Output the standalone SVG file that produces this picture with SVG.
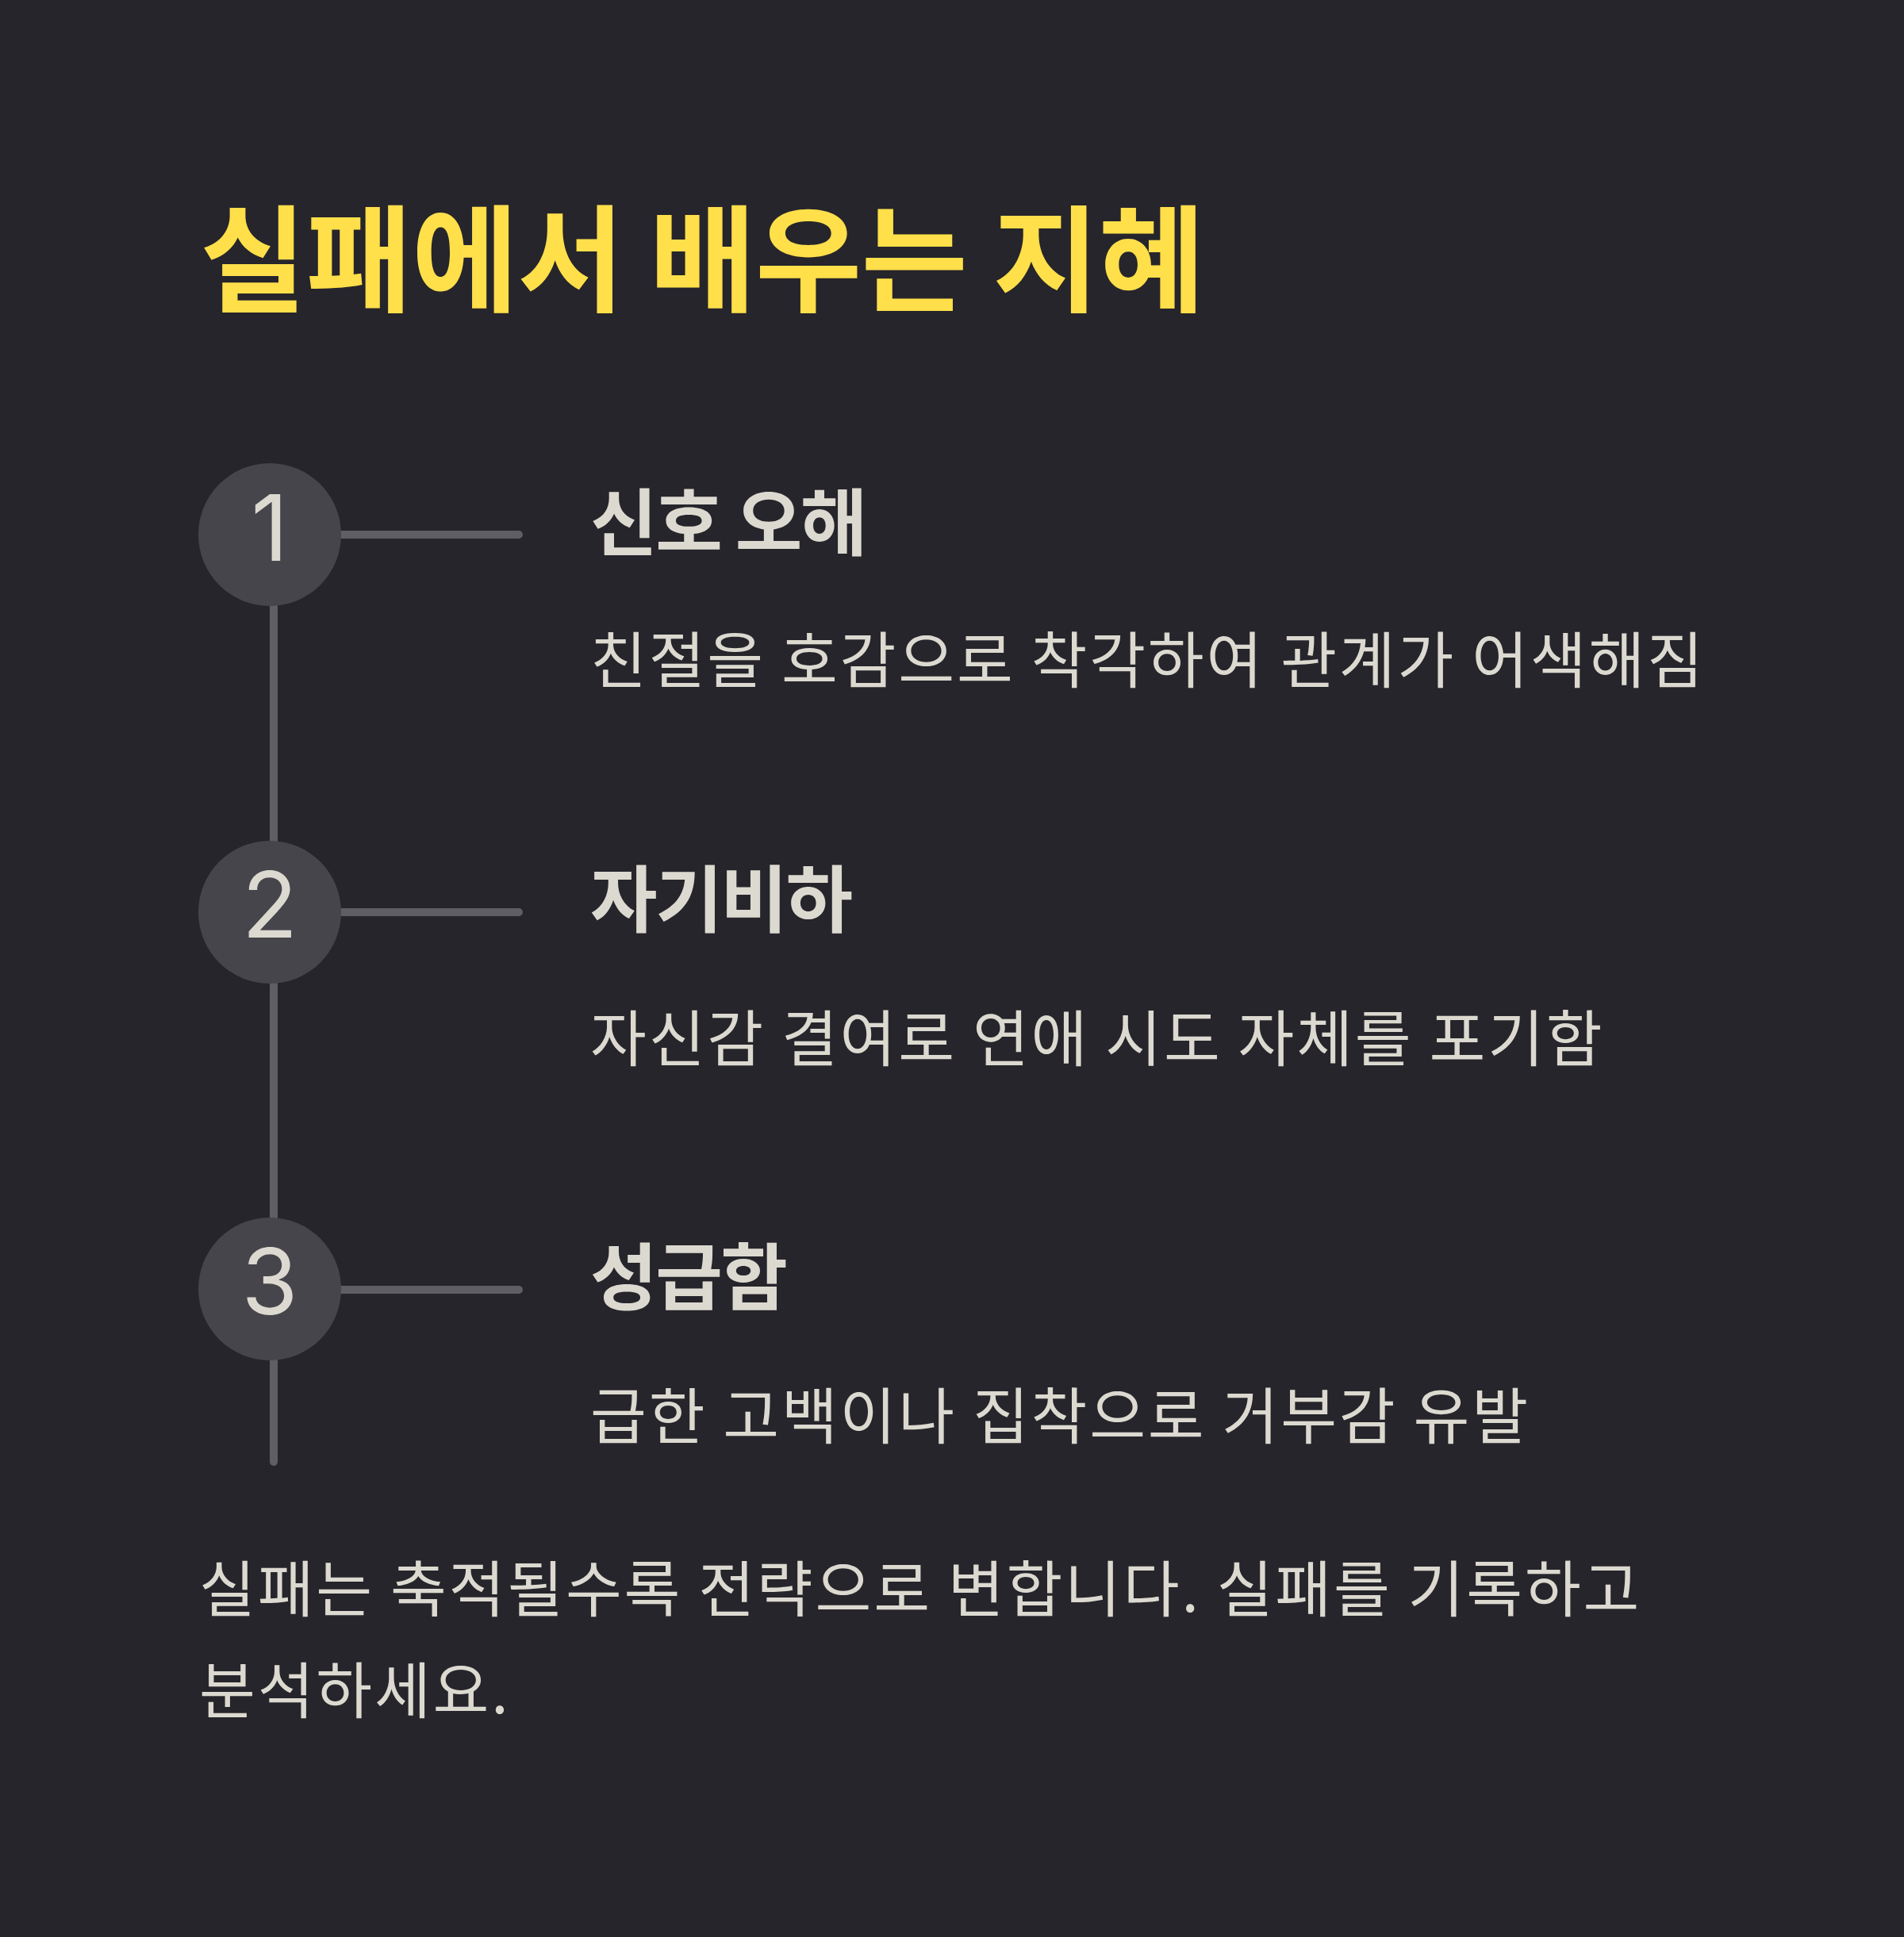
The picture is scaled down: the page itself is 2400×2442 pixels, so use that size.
<svg xmlns="http://www.w3.org/2000/svg" width="2400" height="2442" viewBox="0 0 2400 2442">
<style>
.bg{fill:#26252b}
.title{font-family:"Noto Sans CJK KR","Noto Sans",sans-serif;font-weight:700;font-size:146px;letter-spacing:-0.8px;fill:#ffdf4a}
.head{font-family:"Noto Sans CJK KR","Noto Sans",sans-serif;font-weight:700;font-size:92px;letter-spacing:-2.5px;fill:#dcd9d0}
.desc{font-family:"Noto Sans CJK KR","Noto Sans",sans-serif;font-weight:400;font-size:77px;letter-spacing:2.8px;fill:#dcd9d0}
.num{font-family:Inter,"Noto Sans",sans-serif;font-weight:400;font-size:115px;fill:#dcd9d0;text-anchor:middle}
.circ{fill:#46454b}
.ln{stroke:#5f5e65;stroke-width:10;stroke-linecap:round;fill:none}
</style>
<rect class="bg" x="0" y="0" width="2400" height="2442"/>
<text id="title" class="title" x="252" y="381">실패에서 배우는 지혜</text>
<g id="connectors">
<line class="ln" x1="345" y1="674" x2="345" y2="1843"/>
<line class="ln" x1="340" y1="674" x2="654" y2="674"/>
<line class="ln" x1="340" y1="1150" x2="654" y2="1150"/>
<line class="ln" x1="340" y1="1626" x2="654" y2="1626"/>
</g>
<g id="node1">
<circle class="circ" cx="340" cy="674" r="90"/>
<text class="num" x="340" y="707">1</text>
<text class="head" x="744" y="693">신호 오해</text>
<text class="desc" x="744" y="861">친절을 호감으로 착각하여 관계가 어색해짐</text>
</g>
<g id="node2">
<circle class="circ" cx="340" cy="1150" r="90"/>
<text class="num" x="340" y="1182">2</text>
<text class="head" x="744" y="1168">자기비하</text>
<text class="desc" x="744" y="1338">자신감 결여로 연애 시도 자체를 포기함</text>
</g>
<g id="node3">
<circle class="circ" cx="340" cy="1625" r="90"/>
<text class="num" x="340" y="1657">3</text>
<text class="head" x="744" y="1644">성급함</text>
<text class="desc" x="744" y="1814">급한 고백이나 집착으로 거부감 유발</text>
</g>
<g id="footer">
<text class="desc" x="251" y="2032">실패는 축적될수록 전략으로 변합니다. 실패를 기록하고</text>
<text class="desc" x="251" y="2160">분석하세요.</text>
</g>
</svg>
